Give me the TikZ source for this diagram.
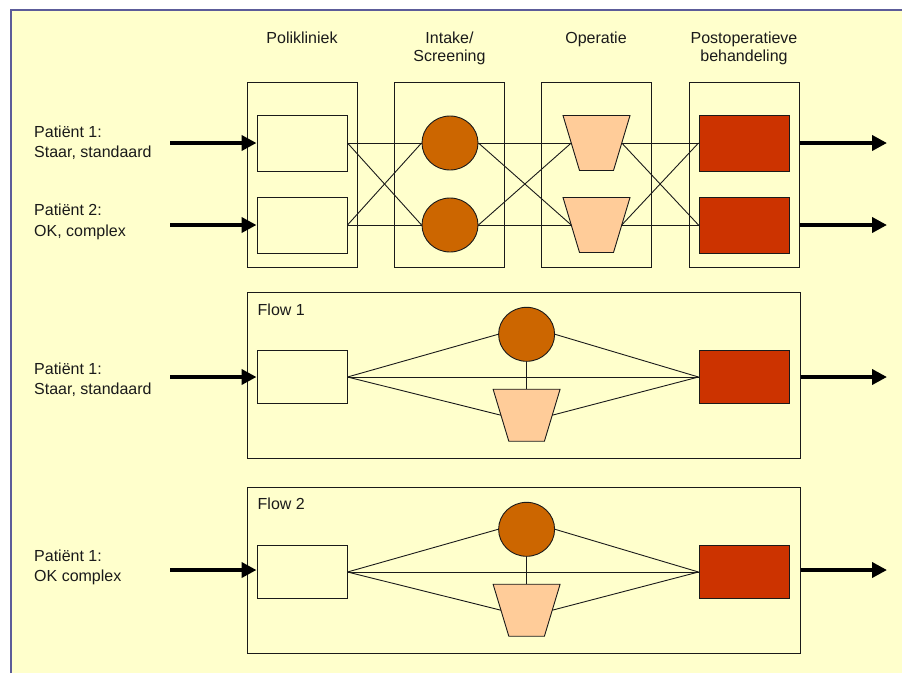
\documentclass[tikz,border=0pt]{standalone}
\usepackage{fontspec}
\setmainfont{Liberation Sans}
\usetikzlibrary{arrows.meta,shapes.geometric}

\definecolor{paper}{HTML}{FFFFCC}
\definecolor{frameblue}{HTML}{5C5C99}
\definecolor{intakefill}{HTML}{CC6600}
\definecolor{opfill}{HTML}{FFCC99}
\definecolor{postfill}{HTML}{CC3300}
\definecolor{ink}{HTML}{1A1A1A}

\tikzset{
  lbl/.style={inner sep=0pt, text=ink, align=left, anchor=north west,
    font=\fontsize{16}{20.5}\selectfont},
  header/.style={inner sep=0pt, text=ink, align=center, anchor=north,
    font=\fontsize{16}{18.3}\selectfont},
  colbox/.style={draw=ink, line width=1pt, minimum width=110pt,
    minimum height=185pt, inner sep=0pt},
  flowbox/.style={draw=ink, line width=1pt, minimum width=553pt,
    minimum height=166pt, inner sep=0pt},
  polirect/.style={draw=ink, line width=1pt, minimum width=90pt,
    minimum height=56pt, inner sep=0pt},
  postrect/.style={polirect, fill=postfill},
  intake/.style={ellipse, draw=ink, line width=0.9pt, fill=intakefill,
    minimum width=56pt, minimum height=54pt, inner sep=0pt},
  opshape/.style={draw=ink, line width=0.9pt, fill=opfill, line join=miter},
  conn/.style={draw=ink, line width=0.9pt},
  flowarrow/.style={draw=black, line width=4.5pt,
    -{Triangle[length=15pt,width=15pt]}},
}

% inverted trapezoid for the operation step:
% name, x, y, half top width, half bottom width, half height
% defines (name), (name w), (name e), (name n) for the connectors
\newcommand\optrap[6]{%
  \begin{scope}[shift={(#2,#3)}]
    \coordinate (#1) at (0,0);
    \draw[opshape] (-#4,-#6) -- (#4,-#6) -- (#5,#6) -- (-#5,#6) -- cycle;
    \coordinate (#1 w) at ({-(#4+#5)/2},0);
    \coordinate (#1 e) at ({(#4+#5)/2},0);
    \coordinate (#1 n) at (0,-#6);
  \end{scope}}

\begin{document}
\begin{tikzpicture}[x=1pt,y=-1pt]
  \useasboundingbox (0,0) rectangle (902,673);
  % page background and frame
  \fill[white] (0,0) rectangle (902,673);
  \fill[paper] (11,10) rectangle (902,673);
  \draw[frameblue, line width=2pt] (11,673) -- (11,10) -- (902,10);

  % column headers
  \node[header] (hA) at (302,31.5)   {Polikliniek};
  \node[header] (hB) at (449.5,31.5) {Intake/\\Screening};
  \node[header] (hC) at (596,31.5)   {Operatie};
  \node[header] (hD) at (744,31.5)   {Postoperatieve\\behandeling};

  % ---------- combined network ----------
  \node[colbox] (colA) at (302,174.5) {};
  \node[colbox] (colB) at (449.5,174.5) {};
  \node[colbox] (colC) at (596,174.5) {};
  \node[colbox] (colD) at (744,174.5) {};

  \node[polirect] (p1) at (302,143) {};
  \node[polirect] (p2) at (302,225) {};
  \node[intake]   (i1) at (450,143) {};
  \node[intake]   (i2) at (450,225) {};
  \optrap{o1}{596.5}{143}{33.5}{17}{27.5}
  \optrap{o2}{596.5}{225}{33.5}{17}{27.5}
  \node[postrect] (q1) at (744,143) {};
  \node[postrect] (q2) at (744,225) {};

  \foreach \a in {p1,p2} \foreach \b in {i1,i2} \draw[conn] (\a.east) -- (\b.west);
  \foreach \a in {i1,i2} \foreach \b in {o1,o2} \draw[conn] (\a.east) -- (\b\space w);
  \foreach \a in {o1,o2} \foreach \b in {q1,q2} \draw[conn] (\a\space e) -- (\b.west);

  \node[lbl] (l1) at (34,125.5) {Patiënt 1:\\Staar, standaard};
  \node[lbl] (l2) at (34,204)   {Patiënt 2:\\OK, complex};

  \coordinate (in1) at (170,143);
  \coordinate (in2) at (170,225);
  \coordinate (out1) at (887,143);
  \coordinate (out2) at (887,225);
  \draw[flowarrow] (in1) -- (p1.west);
  \draw[flowarrow] (in2) -- (p2.west);
  \draw[flowarrow] (q1 -| colD.east) -- (out1);
  \draw[flowarrow] (q2 -| colD.east) -- (out2);

  % ---------- flow 1 ----------
  \node[flowbox] (f1) at (523.5,375.5) {};
  \node[lbl] (f1t) at (257.5,303.5) {Flow 1};
  \node[polirect, minimum height=53pt] (f1a) at (302,377) {};
  \node[intake] (f1i) at (526.6,334.3) {};
  \optrap{f1o}{526.6}{415.2}{33.5}{17.8}{26}
  \node[postrect, minimum height=53pt] (f1q) at (744,377) {};
  \draw[conn] (f1a.east) -- (f1q.west);
  \draw[conn] (f1a.east) -- (f1i.west);
  \draw[conn] (f1i.east) -- (f1q.west);
  \draw[conn] (f1a.east) -- (f1o w);
  \draw[conn] (f1o e) -- (f1q.west);
  \draw[conn] (f1i.south) -- (f1o n);

  \node[lbl] (l3) at (34,362.5) {Patiënt 1:\\Staar, standaard};
  \coordinate (in3) at (170,377);
  \coordinate (out3) at (887,377);
  \draw[flowarrow] (in3) -- (f1a.west);
  \draw[flowarrow] (f1q -| f1.east) -- (out3);

  % ---------- flow 2 ----------
  \node[flowbox] (f2) at (523.5,570.5) {};
  \node[lbl] (f2t) at (257.5,498) {Flow 2};
  \node[polirect, minimum height=53pt] (f2a) at (302,572) {};
  \node[intake] (f2i) at (526.6,529.3) {};
  \optrap{f2o}{526.6}{610.2}{33.5}{17.8}{26}
  \node[postrect, minimum height=53pt] (f2q) at (744,572) {};
  \draw[conn] (f2a.east) -- (f2q.west);
  \draw[conn] (f2a.east) -- (f2i.west);
  \draw[conn] (f2i.east) -- (f2q.west);
  \draw[conn] (f2a.east) -- (f2o w);
  \draw[conn] (f2o e) -- (f2q.west);
  \draw[conn] (f2i.south) -- (f2o n);

  \node[lbl] (l4) at (34,549.5) {Patiënt 1:\\OK complex};
  \coordinate (in4) at (170,570);
  \coordinate (out4) at (887,570);
  \draw[flowarrow] (in4) -- (in4 -| f2a.west);
  \draw[flowarrow] (out4 -| f2.east) -- (out4);
\end{tikzpicture}
\end{document}
